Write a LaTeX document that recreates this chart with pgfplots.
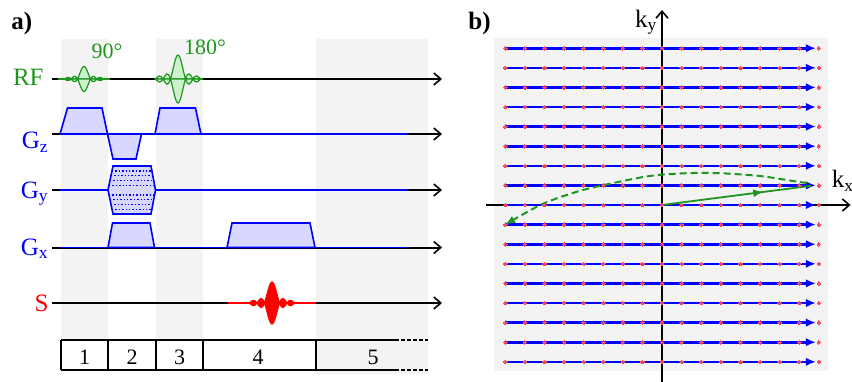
\documentclass[border=0pt]{standalone}
\usepackage{pgfplots}
\pgfplotsset{compat=1.18}
\usepackage{pgfplotstable}
\usetikzlibrary{arrows.meta,decorations.markings}
\usepackage{fontspec}
\setmainfont{Liberation Serif}
\definecolor{bandgray}{RGB}{243,243,243}
\definecolor{rfgreen}{RGB}{30,150,30}
\definecolor{lgreen}{RGB}{205,240,205}
\definecolor{lblue}{RGB}{215,215,255}
\definecolor{gblue}{RGB}{0,0,255}
\definecolor{dotred}{RGB}{250,70,90}

% sinc envelope (|sinc|), u in units of the main-lobe half width
\pgfplotstableread{
u a
-3 0
-2.75 0.082
-2.5 0.127
-2.25 0.100
-2 0
-1.75 0.129
-1.5 0.212
-1.25 0.180
-1 0
-0.875 0.139
-0.75 0.300
-0.625 0.471
-0.5 0.637
-0.375 0.784
-0.25 0.900
-0.125 0.974
0 1
0.125 0.974
0.25 0.900
0.375 0.784
0.5 0.637
0.625 0.471
0.75 0.300
0.875 0.139
1 0
1.25 0.180
1.5 0.212
1.75 0.129
2 0
2.25 0.100
2.5 0.127
2.75 0.082
3 0
}\sinctab

% k-space sample positions along kx
\pgfplotstableread{
kx d
-8 0
-7 0
-6 0
-5 0
-4 0
-3 0
-2 0
-1 0
0 0
1 0
2 0
3 0
4 0
5 0
6 0
7 0
8 0
}\kxtab

\tikzset{barb/.style={-{Straight Barb[length=3.5pt,width=6pt,line width=0.8pt]}}}

\begin{document}
\begin{tikzpicture}
\useasboundingbox (0,0) rectangle (426pt,190.5pt);
% ================= panel a (pixel coordinates) =================
\begin{axis}[at={(0,0)},anchor=south west,x=0.5pt,y=0.5pt,
  xmin=0,xmax=852,ymin=0,ymax=381,y dir=reverse,hide axis,clip=false]
% gray bands
\addplot[fill=bandgray,draw=none] coordinates {(61,39)(108,39)(108,340)(61,340)} -- cycle;
\addplot[fill=bandgray,draw=none] coordinates {(156,39)(203,39)(203,340)(156,340)} -- cycle;
\addplot[fill=bandgray,draw=none] coordinates {(316,39)(428,39)(428,374)(316,374)} -- cycle;
% time axes
\addplot[black,line width=1pt,barb] coordinates {(52,79)(442,79)};
\addplot[black,line width=1pt,barb] coordinates {(52,134)(442,134)};
\addplot[black,line width=1pt,barb] coordinates {(52,190)(442,190)};
\addplot[black,line width=1pt,barb] coordinates {(52,247.5)(442,247.5)};
\addplot[black,line width=1pt,barb] coordinates {(52,303)(442,303)};
% coloured baselines
\addplot[rfgreen,line width=0.9pt] coordinates {(58,79)(110,79)};
\addplot[rfgreen,line width=0.9pt] coordinates {(155,79)(203,79)};
\addplot[gblue,line width=0.9pt] coordinates {(60,134)(408,134)};
\addplot[gblue,line width=0.9pt] coordinates {(60,190)(408,190)};
\addplot[gblue,line width=0.9pt] coordinates {(60,247.5)(408,247.5)};
\addplot[red,line width=0.9pt] coordinates {(228,303)(316,303)};
% RF pulses
\addplot[fill=lgreen,draw=rfgreen,line width=0.6pt] table[x expr={84+6.5*\thisrow{u}},y expr={79-12.5*\thisrow{a}}] \sinctab -- cycle;
\addplot[fill=lgreen,draw=rfgreen,line width=0.6pt] table[x expr={84+6.5*\thisrow{u}},y expr={79+12.5*\thisrow{a}}] \sinctab -- cycle;
\addplot[fill=lgreen,draw=rfgreen,line width=0.6pt] table[x expr={178+7.5*\thisrow{u}},y expr={79-24*\thisrow{a}}] \sinctab -- cycle;
\addplot[fill=lgreen,draw=rfgreen,line width=0.6pt] table[x expr={178+7.5*\thisrow{u}},y expr={79+24*\thisrow{a}}] \sinctab -- cycle;
% signal echo
\addplot[fill=red,draw=red,line width=0.6pt] table[x expr={272+7.5*\thisrow{u}},y expr={303-21*\thisrow{a}}] \sinctab -- cycle;
\addplot[fill=red,draw=red,line width=0.6pt] table[x expr={272+7.5*\thisrow{u}},y expr={303+21*\thisrow{a}}] \sinctab -- cycle;
% Gz
\addplot[fill=lblue,draw=gblue,line width=0.8pt] coordinates {(60,134)(67.5,108)(102,108)(107.5,134)} -- cycle;
\addplot[fill=lblue,draw=gblue,line width=0.8pt] coordinates {(107.5,134)(113,159)(136,159)(141.5,134)} -- cycle;
\addplot[fill=lblue,draw=gblue,line width=0.8pt] coordinates {(155,134)(160,108)(195.5,108)(201,134)} -- cycle;
% Gy phase-encoding table
\addplot[fill=lblue,draw=gblue,line width=0.8pt] coordinates {(108,190)(113,166)(151,166)(155.5,190)(151,214)(113,214)} -- cycle;
\addplot[gblue,line width=0.7pt,densely dotted] coordinates {(109,185.2)(154.6,185.2)};
\addplot[gblue,line width=0.7pt,densely dotted] coordinates {(110,180.4)(153.7,180.4)};
\addplot[gblue,line width=0.7pt,densely dotted] coordinates {(111,175.6)(152.8,175.6)};
\addplot[gblue,line width=0.7pt,densely dotted] coordinates {(112,170.8)(151.9,170.8)};
\addplot[gblue,line width=0.7pt,densely dotted] coordinates {(109,194.8)(154.6,194.8)};
\addplot[gblue,line width=0.7pt,densely dotted] coordinates {(110,199.6)(153.7,199.6)};
\addplot[gblue,line width=0.7pt,densely dotted] coordinates {(111,204.4)(152.8,204.4)};
\addplot[gblue,line width=0.7pt,densely dotted] coordinates {(112,209.2)(151.9,209.2)};
% Gx
\addplot[fill=lblue,draw=gblue,line width=0.8pt] coordinates {(108,247.5)(112.5,223)(150,223)(154.5,247.5)} -- cycle;
\addplot[fill=lblue,draw=gblue,line width=0.8pt] coordinates {(227,247.5)(232,223)(310,223)(315,247.5)} -- cycle;
% timing table
\addplot[black,line width=0.75pt] coordinates {(61,340)(395,340)};
\addplot[black,line width=0.75pt] coordinates {(61,370)(395,370)};
\addplot[black,line width=0.75pt,dash pattern=on 2pt off 1pt] coordinates {(395,340)(428,340)};
\addplot[black,line width=0.75pt,dash pattern=on 2pt off 1pt] coordinates {(395,370)(428,370)};
\addplot[black,line width=0.75pt] coordinates {(61,339.6)(61,370.4)};
\addplot[black,line width=0.75pt] coordinates {(108,340)(108,370)};
\addplot[black,line width=0.75pt] coordinates {(156,340)(156,370)};
\addplot[black,line width=0.75pt] coordinates {(203,340)(203,370)};
\addplot[black,line width=0.75pt] coordinates {(316,340)(316,370)};
\begin{scope}[every node/.style={inner sep=0pt,font=\fontsize{11}{13}\selectfont}]
\node at (axis cs:84.5,357.5) {1};
\node at (axis cs:132,357.5) {2};
\node at (axis cs:179.5,357.5) {3};
\node at (axis cs:258,357.5) {4};
\node at (axis cs:373,357.5) {5};
\node[rfgreen] at (axis cs:107,51.5) {90°};
\node[rfgreen] at (axis cs:205,47.5) {180°};
\end{scope}
\begin{scope}[every node/.style={inner sep=0pt,font=\fontsize{12.5}{14}\selectfont}]
\node[rfgreen,anchor=base east] at (axis cs:44,85) {RF};
\node[gblue,anchor=base east] at (axis cs:49,148.5) {G\textsubscript{z}};
\node[gblue,anchor=base east] at (axis cs:49,198) {G\textsubscript{y}};
\node[gblue,anchor=base east] at (axis cs:49,255) {G\textsubscript{x}};
\node[red,anchor=base east] at (axis cs:49,311.5) {S};
\node[anchor=base west,font=\fontsize{12.5}{14}\selectfont\bfseries] at (axis cs:11,29) {a)};
\node[anchor=base west,font=\fontsize{12.5}{14}\selectfont\bfseries] at (axis cs:468,29) {b)};
\end{scope}
\end{axis}
% ================= panel b (k-space coordinates) =================
\begin{axis}[at={(240.84pt,0.78pt)},anchor=south west,x=9.8pt,y=9.8pt,
  xmin=-9.2,xmax=9.6,ymin=-8.9,ymax=10.4,hide axis,clip=false]
\addplot[fill=bandgray,draw=none] coordinates {(-8.55,-8.45)(8.45,-8.45)(8.45,8.5)(-8.55,8.5)} -- cycle;
\addplot[black,line width=1pt,barb] coordinates {(-8.98,0)(9.62,0)};
\pgfplotsinvokeforeach{-8,...,8}{
  \addplot[gblue,line width=1.3pt,-{Latex[length=5pt,width=4.2pt]}] coordinates {(-8,#1)(7.85,#1)};
}
\pgfplotsinvokeforeach{-8,...,8}{
  \addplot[dotred,only marks,mark=*,mark size=0.9pt,mark options={draw=dotred,fill=dotred,line width=0pt}] table[x=kx,y expr=#1] \kxtab;
}
\addplot[black,line width=1pt,barb] coordinates {(0,-9.1)(0,9.95)};
\addplot[rfgreen,line width=0.9pt,postaction={decorate},
  decoration={markings,mark=at position 0.68 with {\arrow{Latex[length=5pt,width=4pt]}}}]
  coordinates {(0,0)(7.6,0.98)};
\addplot[rfgreen,line width=1pt,dash pattern=on 3.5pt off 2pt,smooth,-{Latex[length=5pt,width=4pt]}]
  coordinates {(7.4,1.12)(6.7,1.22)(5,1.48)(3,1.62)(1.5,1.63)(0,1.55)(-1,1.42)(-2.5,1.12)(-4.2,0.72)(-6.1,0.05)(-8,-1)};
\node[anchor=base east,inner sep=0pt,font=\fontsize{12.5}{14}\selectfont] at (axis cs:-0.22,9.08) {k\textsubscript{y}};
\node[anchor=base west,inner sep=0pt,font=\fontsize{12.5}{14}\selectfont] at (axis cs:8.65,0.87) {k\textsubscript{x}};
\end{axis}
\end{tikzpicture}
\end{document}
